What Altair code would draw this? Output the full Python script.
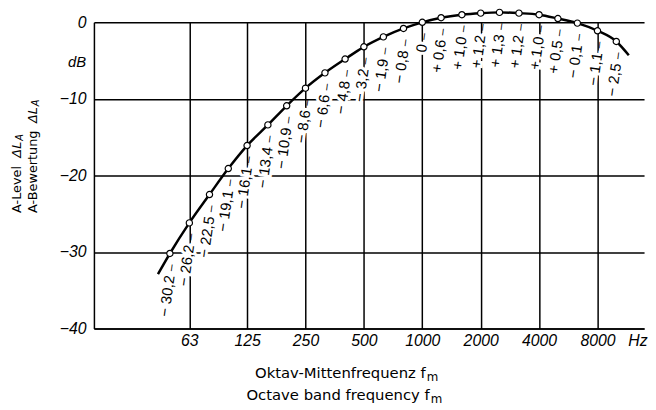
import altair as alt
import pandas as pd

# third-octave centre frequencies (Hz) and A-weighting (dB)
freqs = [50, 63, 80, 100, 125, 160, 200, 250, 315, 400, 500, 630, 800,
         1000, 1250, 1600, 2000, 2500, 3150, 4000, 5000, 6300, 8000, 10000]
levels = [-30.2, -26.2, -22.5, -19.1, -16.1, -13.4, -10.9, -8.6, -6.6, -4.8,
          -3.2, -1.9, -0.8, 0.0, 0.6, 1.0, 1.2, 1.3, 1.2, 1.0, 0.5, -0.1,
          -1.1, -2.5]
labels = ["− 30,2", "− 26,2", "− 22,5", "− 19,1", "− 16,1", "− 13,4",
          "− 10,9", "− 8,6", "− 6,6", "− 4,8", "− 3,2", "− 1,9", "− 0,8",
          "0", "+ 0,6", "+ 1,0", "+ 1,2", "+ 1,3", "+ 1,2", "+ 1,0", "+ 0,5",
          "− 0,1", "− 1,1", "− 2,5"]
# where the drawn curve starts and ends beyond the first/last point
curve_start_f, curve_start_l = 43.4, -32.9
curve_end_f, curve_end_l = 11600, -4.3

x_ticks = [63, 125, 250, 500, 1000, 2000, 4000, 8000]
y_ticks = [0, -10, -20, -30, -40]

pts = pd.DataFrame({"f": freqs, "L": levels, "label": labels})
curve = pd.DataFrame({"f": [curve_start_f] + freqs + [curve_end_f],
                      "L": [curve_start_l] + levels + [curve_end_l]})

FONT = "Liberation Sans"
TFONT = "DejaVu Sans"

xs = alt.Scale(type="log", base=2, domain=[20.3, 13900], nice=False)
ys = alt.Scale(domain=[-40, 0], nice=False, zero=False)

X = alt.X("f:Q", scale=xs, axis=alt.Axis(
    values=x_ticks, title=None, grid=True, ticks=False, format="d",
    labelFont=FONT, labelFontStyle="italic", labelFontSize=16,
    labelColor="black", labelPadding=4, labelFlush=False,
    domainColor="black", domainWidth=1.5,
    gridColor="black", gridWidth=1.5, gridOpacity=1))
Y = alt.Y("L:Q", scale=ys, axis=alt.Axis(
    values=y_ticks, title=None, grid=True, ticks=False, format="d",
    labelFont=FONT, labelFontStyle="italic", labelFontSize=16,
    labelColor="black", labelPadding=8,
    domainColor="black", domainWidth=1.5,
    gridColor="black", gridWidth=1.5, gridOpacity=1))

base = alt.Chart(pts)
LBL = dict(angle=278, align="right", baseline="middle", dx=-22, dy=3,
           font=FONT, fontSize=15)

halo = base.mark_text(color="white", stroke="white", strokeWidth=6,
                      **LBL).encode(x=X, y=Y, text="label:N")
lab = base.mark_text(color="black", **LBL).encode(x=X, y=Y, text="label:N")
lead = base.mark_text(angle=278, align="center", baseline="middle", dx=-14,
                      dy=3, font=FONT, fontSize=12, color="black",
                      text="–").encode(x=X, y=Y)

line = alt.Chart(curve).mark_line(color="black", strokeWidth=2.5,
                                  interpolate="monotone").encode(x=X, y=Y)
dots = base.mark_point(shape="circle", filled=False, fill="white",
                       fillOpacity=1, stroke="black", strokeWidth=1.2,
                       size=40, opacity=1).encode(x=X, y=Y)

one = pd.DataFrame({"a": [0]})


def txt(text, x, y, **kw):
    opts = dict(font=TFONT, fontSize=15, color="black", align="left",
                baseline="middle")
    opts.update(kw)
    return alt.Chart(one).mark_text(text=text, **opts).encode(
        x=alt.value(x), y=alt.value(y))


annotations = [
    txt("dB", -8, 40, font=FONT, fontStyle="italic", fontSize=15, align="right"),
    txt("Hz", 541, 323, font=FONT, fontStyle="italic", fontSize=16),
    txt("Oktav-Mittenfrequenz f", 336, 355, align="right"),
    txt("m", 337, 359, fontSize=12),
    txt("Octave band frequency f", 340, 377, align="right"),
    txt("m", 341, 381, fontSize=12),
    txt("A-Level", -78, 193, angle=270, fontSize=13),
    txt("ΔL", -78, 137, angle=270, fontSize=13, fontStyle="italic"),
    txt("A", -75, 120, angle=270, fontSize=10, fontStyle="italic"),
    txt("A-Bewertung", -62, 193, angle=270, fontSize=13),
    txt("ΔL", -62, 102, angle=270, fontSize=13, fontStyle="italic"),
    txt("A", -59, 85, angle=270, fontSize=10, fontStyle="italic"),
]

chart = alt.layer(halo, lab, lead, line, dots, *annotations).properties(
    width=557, height=310,
    autosize=alt.AutoSizeParams(type="none"),
    padding={"left": 87, "top": 12, "right": 4, "bottom": 80},
    background="white",
).configure_view(stroke=None)

chart.save("out.html", embed_options={"renderer": "svg", "actions": False})
